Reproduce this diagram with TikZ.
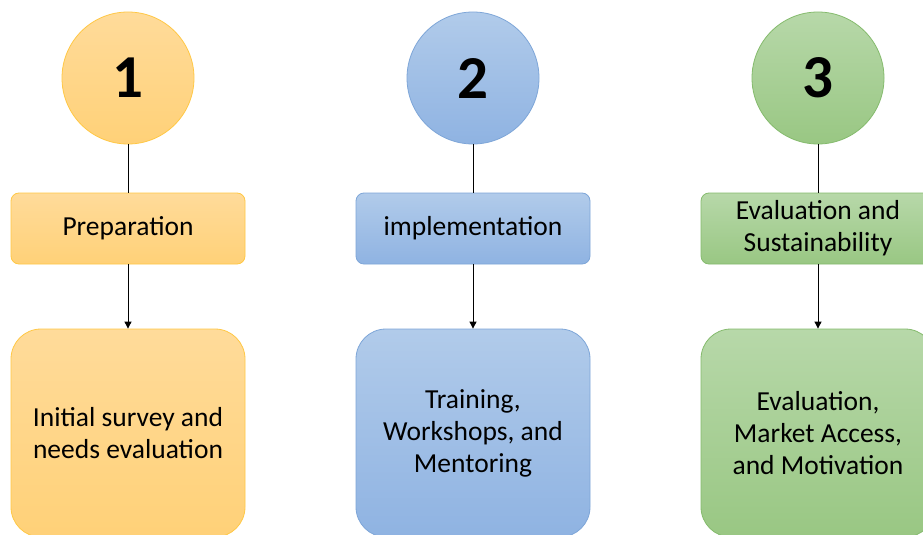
\documentclass[tikz,border=0pt]{standalone}
\usepackage{fontspec}
\setmainfont{Carlito}
\usetikzlibrary{arrows.meta}
\definecolor{oTop}{HTML}{FFDB9A}
\definecolor{oBot}{HTML}{FFD178}
\definecolor{oBor}{HTML}{FFC845}
\definecolor{bTop}{HTML}{B1CBEA}
\definecolor{bBot}{HTML}{8FB3E2}
\definecolor{bBor}{HTML}{7EA6D8}
\definecolor{gTop}{HTML}{B7D8A9}
\definecolor{gBot}{HTML}{99C783}
\definecolor{gBor}{HTML}{85BB6D}
\tikzset{
  numc/.style={circle, minimum size=132pt, inner sep=0pt, line width=0.8pt,
    font=\fontsize{61}{61}\selectfont\bfseries},
  midbox/.style={rectangle, rounded corners=8pt, minimum width=234pt, minimum height=71pt,
    inner sep=0pt, line width=0.8pt, align=center, font=\fontsize{27.5}{32}\selectfont},
  lowbox/.style={rectangle, rounded corners=30pt, minimum width=234pt, minimum height=208pt,
    inner sep=0pt, line width=0.8pt, align=center, font=\fontsize{27.5}{32}\selectfont},
  orangef/.style={draw=oBor, top color=oTop, bottom color=oBot},
  bluef/.style={draw=bBor, top color=bTop, bottom color=bBot},
  greenf/.style={draw=gBor, top color=gTop, bottom color=gBot},
  link/.style={draw=black, line width=0.9pt},
  arr/.style={link, -{Triangle[width=7pt,length=7pt]}}
}
\begin{document}
\begin{tikzpicture}[x=1pt,y=1pt]
\useasboundingbox (0,0) rectangle (923,-535);
\fill[white] (0,0) rectangle (923,-535);
% column 1
\node[numc, orangef] (c1) at (128,-78) {1};
\node[midbox, orangef] (m1) at (128,-228.5) {Preparation};
\node[lowbox, orangef] (l1) at (128,-433) {Initial survey and\\needs evaluation};
% column 2
\node[numc, bluef] (c2) at (473,-78) {2};
\node[midbox, bluef] (m2) at (473,-228.5) {implementation};
\node[lowbox, bluef] (l2) at (473,-433) {Training,\\Workshops, and\\Mentoring};
% column 3
\node[numc, greenf] (c3) at (818,-78) {3};
\node[midbox, greenf] (m3) at (818,-228.5) {Evaluation and\\Sustainability};
\node[lowbox, greenf] (l3) at (818,-433) {Evaluation,\\Market Access,\\and Motivation};
% connectors
\draw[link] (c1) -- (m1);
\draw[link] (c2) -- (m2);
\draw[link] (c3) -- (m3);
\draw[arr] (m1) -- (l1);
\draw[arr] (m2) -- (l2);
\draw[arr] (m3) -- (l3);
\end{tikzpicture}
\end{document}
